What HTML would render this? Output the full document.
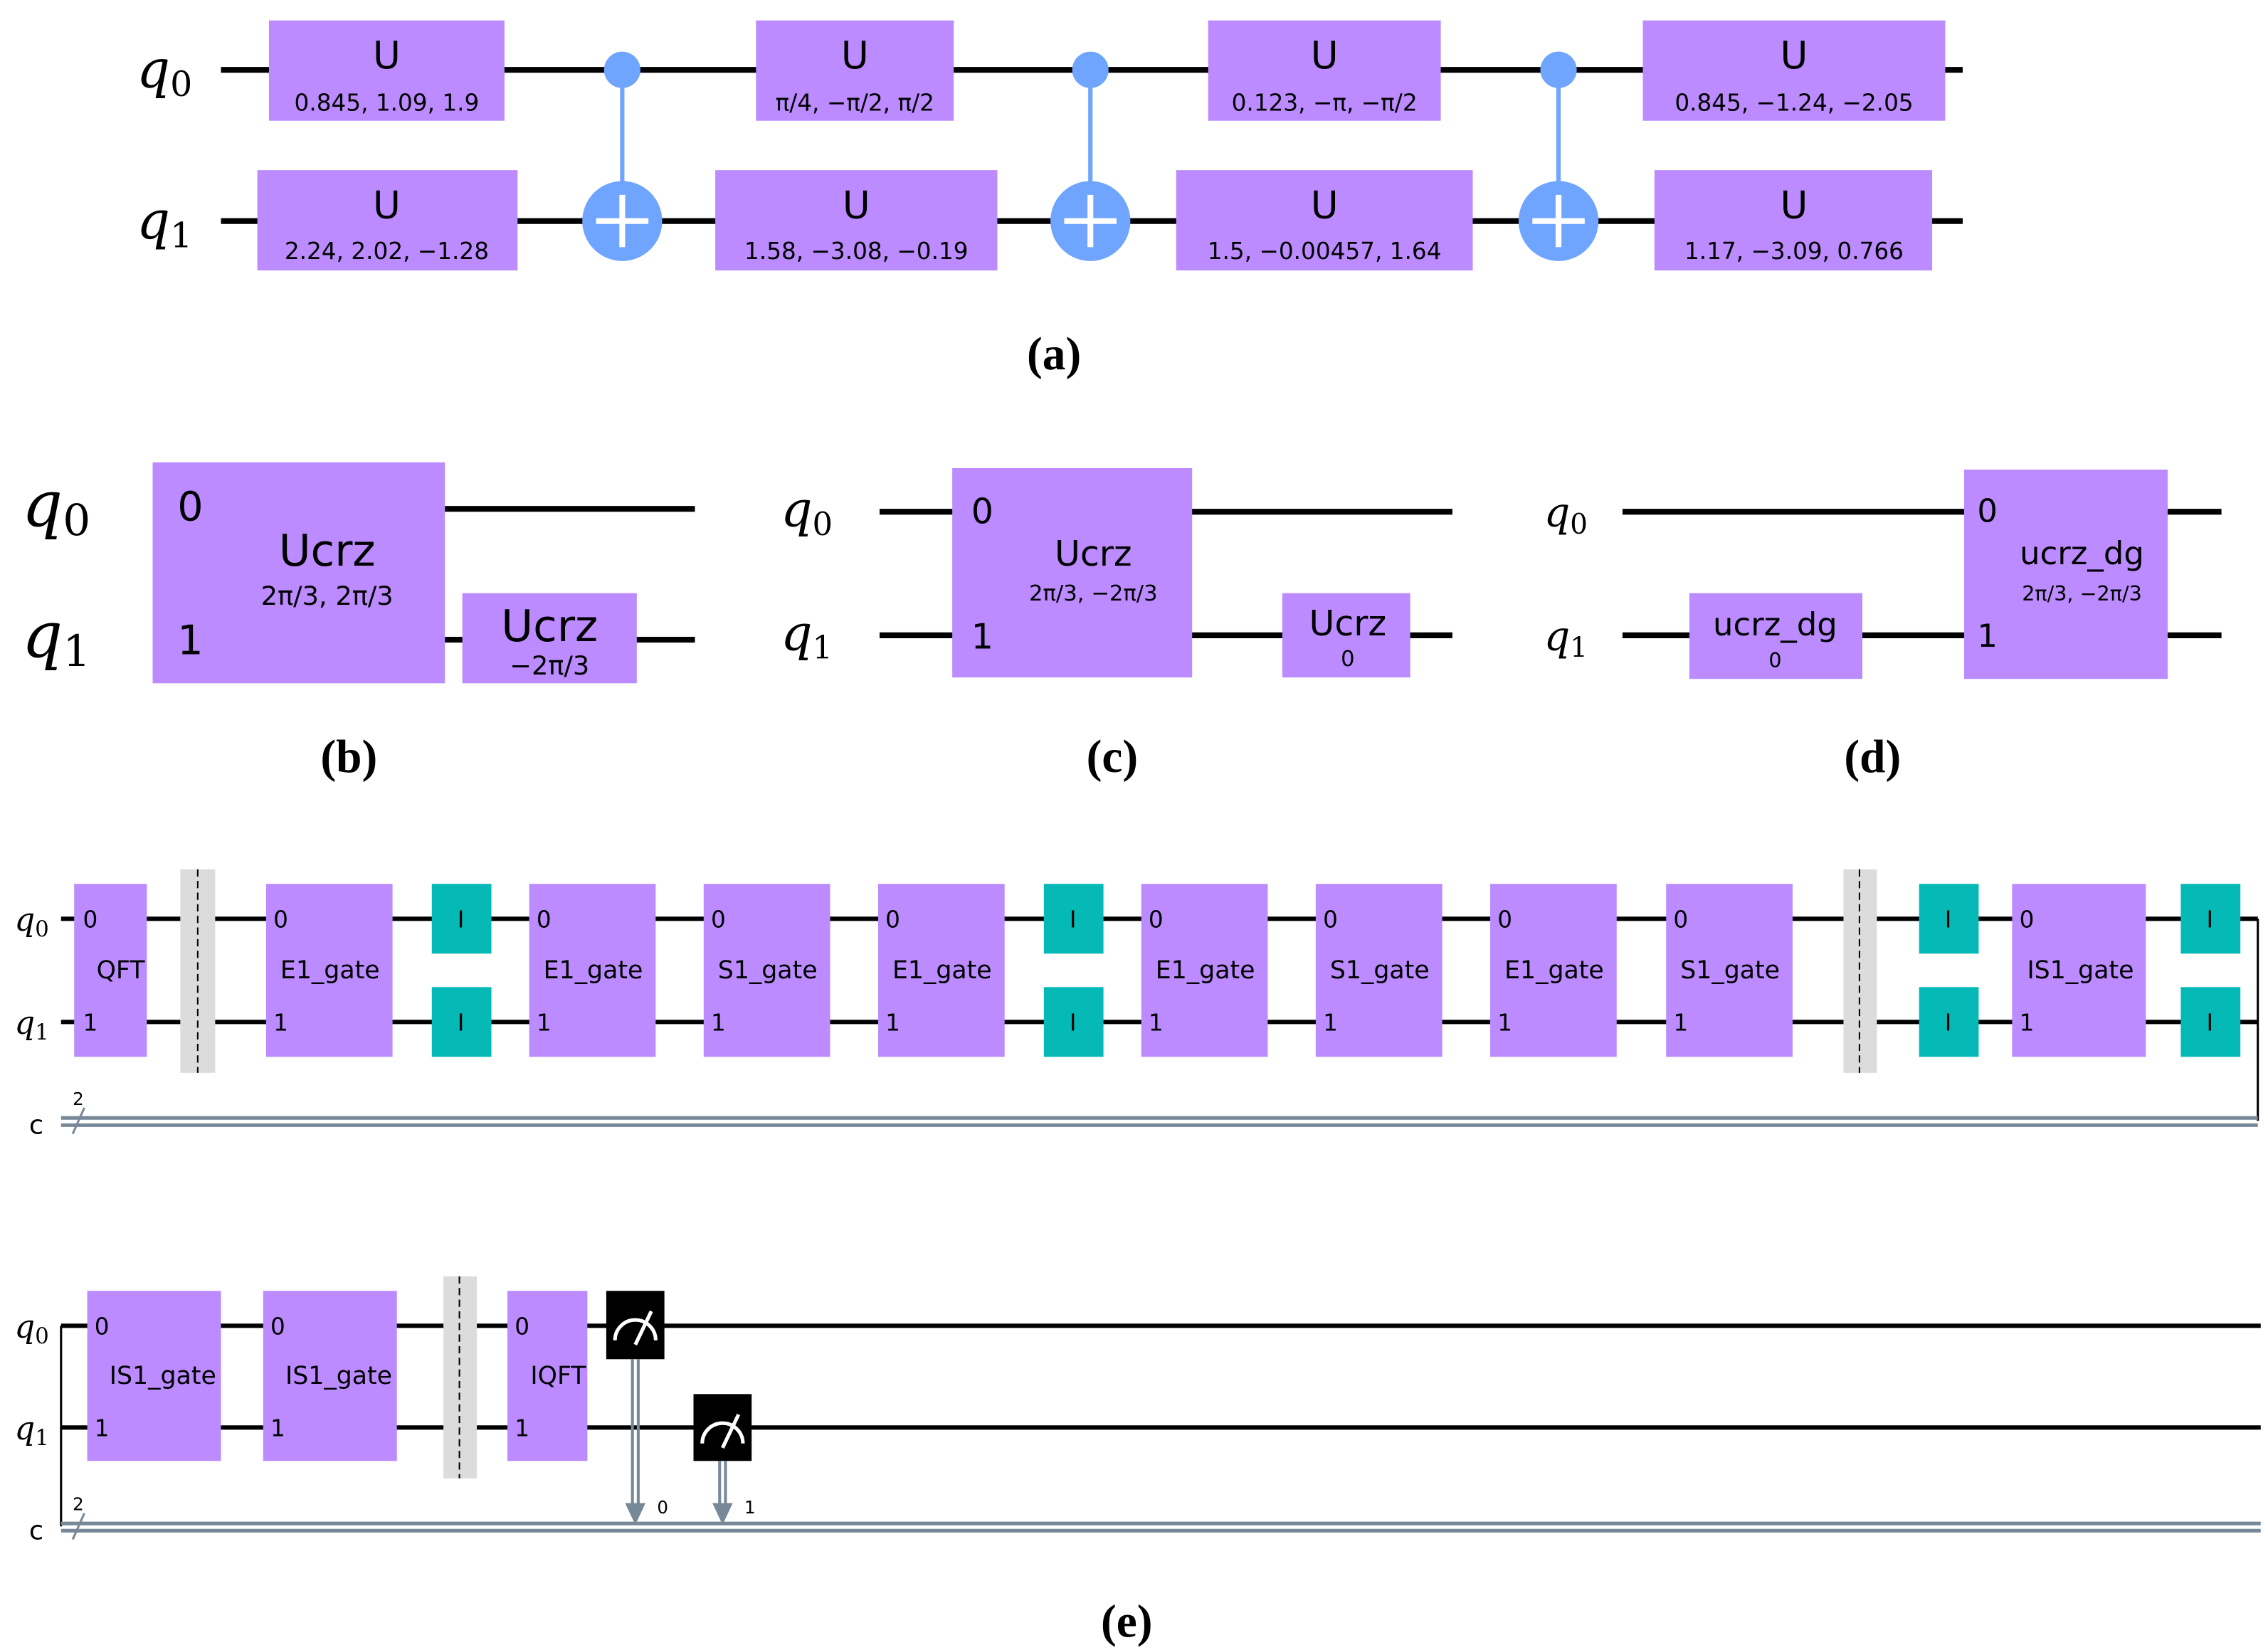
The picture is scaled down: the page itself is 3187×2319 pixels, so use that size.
<!DOCTYPE html>
<html><head><meta charset="utf-8"><style>
html,body{margin:0;padding:0;background:#fff;}
svg{display:block;}
.g{font-family:"DejaVu Sans","Liberation Sans",sans-serif;fill:#000;}
.q{font-family:"DejaVu Serif","Liberation Serif",serif;font-style:italic;fill:#000;}
.cap{font-family:"Liberation Serif",serif;fill:#000;font-size:32px;font-weight:bold;}
</style></head><body>
<svg width="3187" height="2319" viewBox="0 0 1560 1135" xmlns="http://www.w3.org/2000/svg">
<rect width="1560" height="1135" fill="#fff"/>
<!-- Panel a -->
<g stroke="#000" stroke-width="4"><line x1="152" y1="48" x2="1350" y2="48"/><line x1="152" y1="152" x2="1350" y2="152"/></g>
<g fill="#bb8bff">
<rect x="185" y="14" width="162" height="69"/><rect x="520" y="14" width="136" height="69"/>
<rect x="831" y="14" width="160" height="69"/><rect x="1130" y="14" width="208" height="69"/>
<rect x="177" y="117" width="179" height="69"/><rect x="492" y="117" width="194" height="69"/>
<rect x="809" y="117" width="204" height="69"/><rect x="1138" y="117" width="191" height="69"/>
</g>
<g class="g" text-anchor="middle" font-size="26">
<text x="266" y="47">U</text><text x="588" y="47">U</text><text x="911" y="47">U</text><text x="1234" y="47">U</text>
<text x="266" y="150">U</text><text x="589" y="150">U</text><text x="911" y="150">U</text><text x="1234" y="150">U</text>
</g>
<g class="g" text-anchor="middle" font-size="16">
<text x="266" y="76">0.845, 1.09, 1.9</text><text x="588" y="76">π/4, −π/2, π/2</text>
<text x="911" y="76">0.123, −π, −π/2</text><text x="1234" y="76">0.845, −1.24, −2.05</text>
<text x="266" y="178">2.24, 2.02, −1.28</text><text x="589" y="178">1.58, −3.08, −0.19</text>
<text x="911" y="178">1.5, −0.00457, 1.64</text><text x="1234" y="178">1.17, −3.09, 0.766</text>
</g>
<g fill="#6fa4ff" stroke="#6fa4ff" stroke-width="3">
<line x1="428" y1="48" x2="428" y2="152"/><circle cx="428" cy="48" r="11"/><circle cx="428" cy="152" r="26"/>
<line x1="750" y1="48" x2="750" y2="152"/><circle cx="750" cy="48" r="11"/><circle cx="750" cy="152" r="26"/>
<line x1="1072" y1="48" x2="1072" y2="152"/><circle cx="1072" cy="48" r="11"/><circle cx="1072" cy="152" r="26"/>
</g>
<g stroke="#fff" stroke-width="4">
<line x1="410" y1="152" x2="446" y2="152"/><line x1="428" y1="134" x2="428" y2="170"/>
<line x1="732" y1="152" x2="768" y2="152"/><line x1="750" y1="134" x2="750" y2="170"/>
<line x1="1054" y1="152" x2="1090" y2="152"/><line x1="1072" y1="134" x2="1072" y2="170"/>
</g>
<text class="q" x="94" y="60" font-size="36">q<tspan font-size="24" font-style="normal" dy="6">0</tspan></text>
<text class="q" x="94" y="164" font-size="36">q<tspan font-size="24" font-style="normal" dy="6">1</tspan></text>
<text class="cap" x="725" y="254" text-anchor="middle">(a)</text>

<!-- Panel b -->
<g stroke="#000" stroke-width="4"><line x1="306" y1="350" x2="478" y2="350"/><line x1="306" y1="440" x2="478" y2="440"/></g>
<rect x="105" y="318" width="201" height="152" fill="#bb8bff"/>
<rect x="318" y="408" width="120" height="62" fill="#bb8bff"/>
<text class="q" x="15" y="362" font-size="44">q<tspan font-size="30" font-style="normal" dy="6">0</tspan></text>
<text class="q" x="15" y="452" font-size="44">q<tspan font-size="30" font-style="normal" dy="6">1</tspan></text>
<g class="g" font-size="28"><text x="122" y="358">0</text><text x="122" y="450">1</text></g>
<g class="g" text-anchor="middle">
<text x="225" y="389" font-size="30">Ucrz</text><text x="225" y="416" font-size="18">2π/3, 2π/3</text>
<text x="378" y="441" font-size="30">Ucrz</text><text x="378" y="464" font-size="18">−2π/3</text>
</g>
<text class="cap" x="240" y="531" text-anchor="middle">(b)</text>

<!-- Panel c -->
<g stroke="#000" stroke-width="4"><line x1="605" y1="352" x2="999" y2="352"/><line x1="605" y1="437" x2="999" y2="437"/></g>
<rect x="655" y="322" width="165" height="144" fill="#bb8bff"/>
<rect x="882" y="408" width="88" height="58" fill="#bb8bff"/>
<text class="q" x="537" y="362" font-size="34">q<tspan font-size="22" font-style="normal" dy="6">0</tspan></text>
<text class="q" x="537" y="447" font-size="34">q<tspan font-size="22" font-style="normal" dy="6">1</tspan></text>
<g class="g" font-size="24"><text x="668" y="360">0</text><text x="668" y="446">1</text></g>
<g class="g" text-anchor="middle">
<text x="752" y="389" font-size="24">Ucrz</text><text x="752" y="413" font-size="15">2π/3, −2π/3</text>
<text x="927" y="437" font-size="24">Ucrz</text><text x="927" y="458" font-size="15">0</text>
</g>
<text class="cap" x="765" y="531" text-anchor="middle">(c)</text>

<!-- Panel d -->
<g stroke="#000" stroke-width="4"><line x1="1116" y1="352" x2="1528" y2="352"/><line x1="1116" y1="437" x2="1528" y2="437"/></g>
<rect x="1162" y="408" width="119" height="59" fill="#bb8bff"/>
<rect x="1351" y="323" width="140" height="144" fill="#bb8bff"/>
<text class="q" x="1062" y="362" font-size="28">q<tspan font-size="19" font-style="normal" dy="5">0</tspan></text>
<text class="q" x="1062" y="447" font-size="28">q<tspan font-size="19" font-style="normal" dy="5">1</tspan></text>
<g class="g" font-size="22"><text x="1360" y="359">0</text><text x="1360" y="445">1</text></g>
<g class="g" text-anchor="middle">
<text x="1221" y="437" font-size="22">ucrz_dg</text><text x="1221" y="459" font-size="14">0</text>
<text x="1432" y="388" font-size="22">ucrz_dg</text><text x="1432" y="413" font-size="14">2π/3, −2π/3</text>
</g>
<text class="cap" x="1288" y="531" text-anchor="middle">(d)</text>

<!-- Panel e row1 -->
<g stroke="#000" stroke-width="3">
<line x1="42" y1="632" x2="1553" y2="632"/><line x1="42" y1="703" x2="1553" y2="703"/>
<line x1="1553" y1="632" x2="1553" y2="771" stroke-width="1.5"/>
</g>
<g stroke="#778899" stroke-width="2.5"><line x1="42" y1="769" x2="1553" y2="769"/><line x1="42" y1="774" x2="1553" y2="774"/></g>
<line x1="50" y1="780" x2="58" y2="762" stroke="#778899" stroke-width="1.5"/>
<text class="g" x="50" y="760" font-size="12">2</text>
<text class="g" x="20" y="780" font-size="18">c</text>
<text class="q" x="10" y="640" font-size="22">q<tspan font-size="15" font-style="normal" dy="4">0</tspan></text>
<text class="q" x="10" y="711" font-size="22">q<tspan font-size="15" font-style="normal" dy="4">1</tspan></text>
<g fill="#dcdcdc"><rect x="124" y="598" width="24" height="140"/><rect x="1268" y="598" width="23" height="140"/></g>
<g stroke="#000" stroke-width="1" stroke-dasharray="5,3"><line x1="136" y1="598" x2="136" y2="738"/><line x1="1279" y1="598" x2="1279" y2="738"/></g>
<g fill="#bb8bff">
<rect x="51" y="608" width="50" height="119"/>
<rect x="183" y="608" width="87" height="119"/><rect x="364" y="608" width="87" height="119"/>
<rect x="484" y="608" width="87" height="119"/><rect x="604" y="608" width="87" height="119"/>
<rect x="785" y="608" width="87" height="119"/><rect x="905" y="608" width="87" height="119"/>
<rect x="1025" y="608" width="87" height="119"/><rect x="1146" y="608" width="87" height="119"/>
<rect x="1384" y="608" width="92" height="119"/>
</g>
<g fill="#05bab6">
<rect x="297" y="608" width="41" height="48"/><rect x="297" y="679" width="41" height="48"/>
<rect x="718" y="608" width="41" height="48"/><rect x="718" y="679" width="41" height="48"/>
<rect x="1320" y="608" width="41" height="48"/><rect x="1320" y="679" width="41" height="48"/>
<rect x="1500" y="608" width="41" height="48"/><rect x="1500" y="679" width="41" height="48"/>
</g>
<g class="g" font-size="16">
<text x="57" y="638">0</text><text x="57" y="709">1</text>
<text x="188" y="638">0</text><text x="188" y="709">1</text><text x="369" y="638">0</text><text x="369" y="709">1</text>
<text x="489" y="638">0</text><text x="489" y="709">1</text><text x="609" y="638">0</text><text x="609" y="709">1</text>
<text x="790" y="638">0</text><text x="790" y="709">1</text><text x="910" y="638">0</text><text x="910" y="709">1</text>
<text x="1030" y="638">0</text><text x="1030" y="709">1</text><text x="1151" y="638">0</text><text x="1151" y="709">1</text>
<text x="1389" y="638">0</text><text x="1389" y="709">1</text>
</g>
<g class="g" font-size="17" text-anchor="middle">
<text x="83" y="673">QFT</text>
<text x="227" y="673">E1_gate</text><text x="408" y="673">E1_gate</text><text x="528" y="673">S1_gate</text>
<text x="648" y="673">E1_gate</text><text x="829" y="673">E1_gate</text><text x="949" y="673">S1_gate</text>
<text x="1069" y="673">E1_gate</text><text x="1190" y="673">S1_gate</text><text x="1431" y="673">IS1_gate</text>
</g>
<g class="g" font-size="16" text-anchor="middle">
<text x="317" y="638">I</text><text x="317" y="709">I</text><text x="738" y="638">I</text><text x="738" y="709">I</text>
<text x="1340" y="638">I</text><text x="1340" y="709">I</text><text x="1520" y="638">I</text><text x="1520" y="709">I</text>
</g>

<!-- Panel e row2 -->
<g stroke="#000" stroke-width="3">
<line x1="42" y1="912" x2="1555" y2="912"/><line x1="42" y1="982" x2="1555" y2="982"/>
<line x1="42" y1="912" x2="42" y2="1050" stroke-width="1.5"/>
</g>
<g stroke="#778899" stroke-width="2.5"><line x1="42" y1="1048" x2="1555" y2="1048"/><line x1="42" y1="1053" x2="1555" y2="1053"/></g>
<line x1="50" y1="1059" x2="58" y2="1041" stroke="#778899" stroke-width="1.5"/>
<text class="g" x="50" y="1039" font-size="12">2</text>
<text class="g" x="20" y="1059" font-size="18">c</text>
<text class="q" x="10" y="920" font-size="22">q<tspan font-size="15" font-style="normal" dy="4">0</tspan></text>
<text class="q" x="10" y="990" font-size="22">q<tspan font-size="15" font-style="normal" dy="4">1</tspan></text>
<rect x="305" y="878" width="23" height="139" fill="#dcdcdc"/>
<line x1="316" y1="878" x2="316" y2="1017" stroke="#000" stroke-width="1" stroke-dasharray="5,3"/>
<g fill="#bb8bff">
<rect x="60" y="888" width="92" height="117"/><rect x="181" y="888" width="92" height="117"/>
<rect x="349" y="888" width="55" height="117"/>
</g>
<g class="g" font-size="16">
<text x="65" y="918">0</text><text x="65" y="988">1</text><text x="186" y="918">0</text><text x="186" y="988">1</text>
<text x="354" y="918">0</text><text x="354" y="988">1</text>
</g>
<g class="g" font-size="17" text-anchor="middle">
<text x="112" y="952">IS1_gate</text><text x="233" y="952">IS1_gate</text><text x="384" y="952">IQFT</text>
</g>
<rect x="417" y="888" width="40" height="47" fill="#000"/>
<rect x="477" y="959" width="40" height="46" fill="#000"/>
<g stroke="#fff" stroke-width="2.5" fill="none">
<path d="M423 922 A14 14 0 0 1 451 922"/><line x1="437" y1="925" x2="448" y2="902"/>
<path d="M483 993 A14 14 0 0 1 511 993"/><line x1="497" y1="996" x2="508" y2="973"/>
</g>
<g stroke="#778899" stroke-width="2">
<line x1="435" y1="935" x2="435" y2="1036"/><line x1="439" y1="935" x2="439" y2="1036"/>
<line x1="495" y1="1005" x2="495" y2="1036"/><line x1="499" y1="1005" x2="499" y2="1036"/>
</g>
<g fill="#778899"><polygon points="430,1034 444,1034 437,1049"/><polygon points="490,1034 504,1034 497,1049"/></g>
<g class="g" font-size="12"><text x="452" y="1041">0</text><text x="512" y="1041">1</text></g>
<text class="cap" x="775" y="1126" text-anchor="middle">(e)</text>
</svg>
</body></html>
